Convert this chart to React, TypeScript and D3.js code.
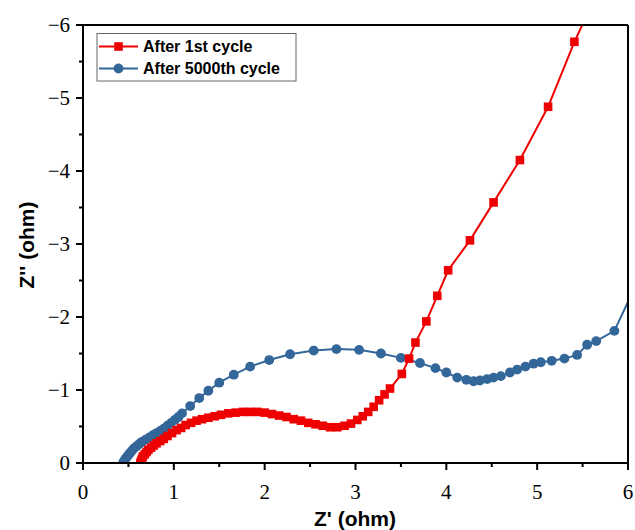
import React from "react";
import * as d3 from "d3";

const seriesNames = ["After 1st cycle", "After 5000th cycle"];

const redX = [0.63,0.64,0.65,0.66,0.68,0.70,0.72,0.75,0.78,0.81,0.85,0.89,0.93,0.98,1.03,1.08,1.13,1.19,1.25,1.31,1.38,1.45,1.52,1.60,1.68,1.76,1.84,1.92,2.00,2.08,2.16,2.24,2.32,2.40,2.48,2.56,2.64,2.72,2.80,2.88,2.95,3.02,3.08,3.14,3.20,3.26,3.32,3.38,3.51,3.59,3.66,3.78,3.90,4.02,4.26,4.52,4.81,5.12,5.41,5.58];
const redY = [0.00,-0.03,-0.06,-0.09,-0.12,-0.15,-0.18,-0.21,-0.24,-0.27,-0.30,-0.33,-0.37,-0.41,-0.45,-0.48,-0.52,-0.55,-0.58,-0.60,-0.62,-0.64,-0.66,-0.68,-0.69,-0.70,-0.70,-0.70,-0.69,-0.67,-0.65,-0.63,-0.60,-0.58,-0.55,-0.53,-0.51,-0.49,-0.49,-0.51,-0.54,-0.59,-0.64,-0.70,-0.77,-0.86,-0.94,-1.02,-1.22,-1.43,-1.65,-1.94,-2.29,-2.64,-3.05,-3.57,-4.15,-4.88,-5.77,-6.22];

const blueX = [0.44,0.45,0.46,0.47,0.48,0.50,0.52,0.54,0.56,0.59,0.62,0.65,0.69,0.73,0.77,0.81,0.85,0.89,0.93,0.97,1.01,1.05,1.09,1.18,1.28,1.38,1.50,1.66,1.84,2.05,2.28,2.54,2.79,3.04,3.28,3.50,3.71,3.88,4.00,4.12,4.22,4.30,4.37,4.45,4.52,4.60,4.70,4.78,4.87,4.96,5.04,5.16,5.30,5.44,5.55,5.65,5.85,6.08];
const blueY = [0.00,-0.02,-0.04,-0.06,-0.08,-0.11,-0.14,-0.17,-0.20,-0.23,-0.26,-0.29,-0.32,-0.35,-0.38,-0.41,-0.44,-0.47,-0.51,-0.55,-0.59,-0.63,-0.68,-0.78,-0.89,-0.99,-1.10,-1.21,-1.32,-1.41,-1.49,-1.54,-1.56,-1.55,-1.50,-1.44,-1.37,-1.30,-1.24,-1.17,-1.14,-1.12,-1.13,-1.15,-1.17,-1.19,-1.24,-1.28,-1.32,-1.36,-1.38,-1.40,-1.43,-1.48,-1.62,-1.67,-1.81,-2.42];

const xTicks = [0, 1, 2, 3, 4, 5, 6];
const yTicks = [0, -1, -2, -3, -4, -5, -6];
const xMinor = [0.5, 1.5, 2.5, 3.5, 4.5, 5.5];
const yMinor = [-0.5, -1.5, -2.5, -3.5, -4.5, -5.5];

const RED = "#EE0000";
const BLUE = "#336699";

export default function App() {
  const left = 83, right = 628, top = 25, bottom = 463;
  const x = d3.scaleLinear().domain([0, 6]).range([left, right]);
  const y = d3.scaleLinear().domain([0, -6]).range([bottom, top]);

  const red = redX.map((v, i) => [v, redY[i]] as [number, number]);
  const blue = blueX.map((v, i) => [v, blueY[i]] as [number, number]);
  const line = d3.line<[number, number]>().x(d => x(d[0])).y(d => y(d[1]));

  const fmt = (v: number) => (v < 0 ? "\u2212" + Math.abs(v) : String(v));
  const sq = 8.6;
  const r = 4.9;

  return (
    <svg width={635} height={530} style={{ position: "absolute", left: 0, top: 0, background: "#fff" }}>
      <defs>
        <clipPath id="plotClip">
          <rect x={left} y={top} width={right - left} height={bottom - top} />
        </clipPath>
      </defs>
      <rect x={0} y={0} width={635} height={530} fill="#fff" />

      <g clipPath="url(#plotClip)">
        <path d={line(blue) || ""} fill="none" stroke={BLUE} strokeWidth={2} />
        {blue.map((d, i) => (
          <circle key={"b" + i} cx={x(d[0])} cy={y(d[1])} r={r} fill={BLUE} />
        ))}
        <path d={line(red) || ""} fill="none" stroke={RED} strokeWidth={2} />
        {red.map((d, i) => (
          <rect key={"r" + i} x={x(d[0]) - sq / 2} y={y(d[1]) - sq / 2} width={sq} height={sq} fill={RED} />
        ))}
      </g>

      {/* frame */}
      <line x1={left} x2={right} y1={top} y2={top} stroke="#000" strokeWidth={2} />
      <line x1={right} x2={right} y1={top} y2={bottom} stroke="#000" strokeWidth={2} />
      <line x1={left} x2={right + 1} y1={bottom} y2={bottom} stroke="#000" strokeWidth={2} />
      <line x1={left} x2={left} y1={top - 1} y2={bottom + 1} stroke="#000" strokeWidth={2} />

      {/* x ticks */}
      {xTicks.map(t => (
        <g key={"xt" + t}>
          <line x1={x(t)} x2={x(t)} y1={bottom} y2={bottom + 7} stroke="#000" strokeWidth={2} />
          <text x={x(t)} y={499} textAnchor="middle" fontFamily="'Liberation Serif', 'Times New Roman', serif" fontSize={21} fill="#000">{fmt(t)}</text>
        </g>
      ))}
      {xMinor.map(t => (
        <line key={"xm" + t} x1={x(t)} x2={x(t)} y1={bottom} y2={bottom + 4} stroke="#000" strokeWidth={2} />
      ))}

      {/* y ticks */}
      {yTicks.map(t => (
        <g key={"yt" + t}>
          <line x1={left - 7} x2={left} y1={y(t)} y2={y(t)} stroke="#000" strokeWidth={2} />
          <text x={70} y={y(t) + 7} textAnchor="end" fontFamily="'Liberation Serif', 'Times New Roman', serif" fontSize={21} fill="#000">{fmt(t)}</text>
        </g>
      ))}
      {yMinor.map(t => (
        <line key={"ym" + t} x1={left - 4} x2={left} y1={y(t)} y2={y(t)} stroke="#000" strokeWidth={2} />
      ))}

      {/* axis titles */}
      <text x={355} y={526} textAnchor="middle" fontFamily="'Liberation Sans', Arial, sans-serif" fontWeight="bold" fontSize={21} fill="#000">Z' (ohm)</text>
      <text transform="translate(34,245) rotate(-90)" textAnchor="middle" fontFamily="'Liberation Sans', Arial, sans-serif" fontWeight="bold" fontSize={21} fill="#000">Z'' (ohm)</text>

      {/* legend */}
      <rect x={97} y={33.5} width={199} height={47.5} fill="#fff" stroke="#666" strokeWidth={1} />
      <line x1={99} x2={138} y1={46.5} y2={46.5} stroke={RED} strokeWidth={2} />
      <rect x={118.5 - sq / 2} y={46.5 - sq / 2} width={sq} height={sq} fill={RED} />
      <text x={143} y={52} fontFamily="'Liberation Sans', Arial, sans-serif" fontWeight="bold" fontSize={16} fill="#000">{seriesNames[0]}</text>
      <line x1={99} x2={138} y1={68.5} y2={68.5} stroke={BLUE} strokeWidth={2} />
      <circle cx={118.5} cy={68.5} r={r} fill={BLUE} />
      <text x={143} y={74} fontFamily="'Liberation Sans', Arial, sans-serif" fontWeight="bold" fontSize={16} fill="#000">{seriesNames[1]}</text>
    </svg>
  );
}
